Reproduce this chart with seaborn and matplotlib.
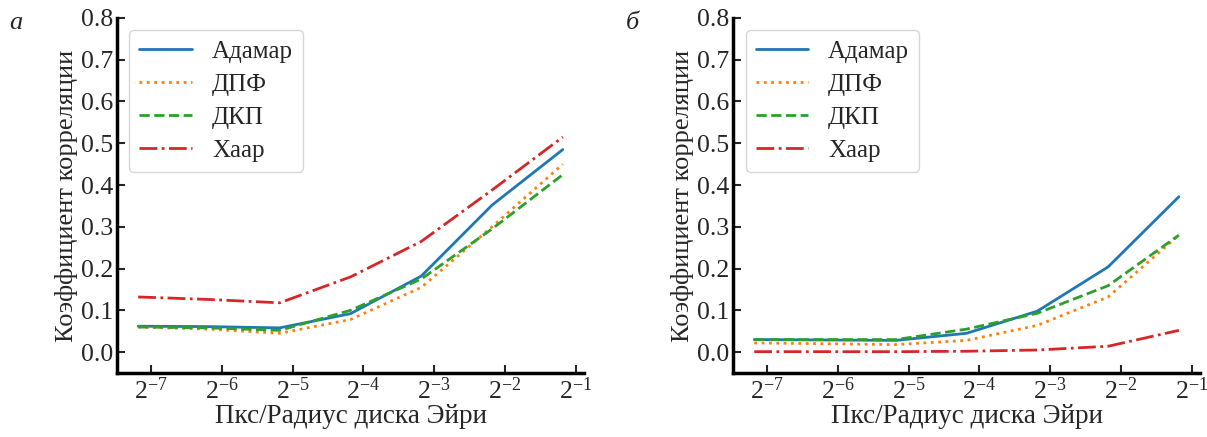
import numpy as np
import pandas as pd
import seaborn as sns
import matplotlib.pyplot as plt

sns.set_theme(style="ticks")
plt.rcParams['font.family'] = ['Liberation Serif', 'DejaVu Serif']
plt.rcParams['mathtext.fontset'] = 'stix'

# pixel / Airy radius (log2 steps)
pks = [0.00689, 0.01378, 0.02756, 0.05512, 0.11024, 0.22048, 0.44096]
methods = ["Адамар", "ДПФ", "ДКП", "Хаар"]

# panel а
a_adamar = [0.062, 0.061, 0.058, 0.092, 0.182, 0.352, 0.485]
a_dpf = [0.060, 0.055, 0.045, 0.078, 0.155, 0.300, 0.450]
a_dkp = [0.060, 0.058, 0.052, 0.100, 0.175, 0.295, 0.425]
a_haar = [0.132, 0.126, 0.118, 0.180, 0.265, 0.388, 0.515]

# panel б
b_adamar = [0.030, 0.029, 0.028, 0.045, 0.098, 0.204, 0.372]
b_dpf = [0.022, 0.020, 0.018, 0.028, 0.064, 0.132, 0.280]
b_dkp = [0.030, 0.030, 0.030, 0.055, 0.093, 0.159, 0.280]
b_haar = [0.001, 0.001, 0.001, 0.002, 0.005, 0.014, 0.052]

colors = sns.color_palette("tab10", 4)
styles = ["-", ":", "--", "-."]

fig = plt.figure(figsize=(12.07, 4.37), dpi=100)
ax_a = fig.add_axes([0.0969, 0.1465, 0.387, 0.8124])
ax_b = fig.add_axes([0.6073, 0.1465, 0.387, 0.8124])

panels = [(ax_a, "а", [a_adamar, a_dpf, a_dkp, a_haar]),
          (ax_b, "б", [b_adamar, b_dpf, b_dkp, b_haar])]

for ax, letter, series in panels:
    for name, vals, c, ls in zip(methods, series, colors, styles):
        df = pd.DataFrame({"x": pks, "y": vals})
        sns.lineplot(data=df, x="x", y="y", ax=ax, color=c, linestyle=ls,
                     linewidth=2, label=name)
    ax.set_xscale("log", base=2)
    ax.set_ylim(-0.05, 0.8)
    ax.set_yticks(np.arange(0, 0.81, 0.1))
    ax.set_yticklabels([f"{v:.1f}" for v in np.arange(0, 0.81, 0.1)])
    ax.set_xticks([2.0 ** k for k in range(-7, 0)])
    ax.tick_params(direction="in", labelsize=18.5, width=1.5, length=6, pad=3)
    ax.tick_params(axis="x", which="minor", bottom=False)
    sns.despine(ax=ax)
    for s in ["left", "bottom"]:
        ax.spines[s].set_linewidth(2.5)
        ax.spines[s].set_color("black")
    ax.set_xlabel("Пкс/Радиус диска Эйри", fontsize=19.5, labelpad=0)
    ax.set_ylabel("Коэффициент корреляции", fontsize=19, labelpad=2)
    leg = ax.legend(loc="upper left", fontsize=18, handlelength=2.1,
                    handletextpad=0.8, labelspacing=0.42, borderpad=0.4,
                    fancybox=True, framealpha=0.8)
    ax.text(-0.23, 0.985, letter, transform=ax.transAxes, fontsize=19,
            style="italic", va="center", ha="left")

fig.savefig("out.png", dpi=100)
